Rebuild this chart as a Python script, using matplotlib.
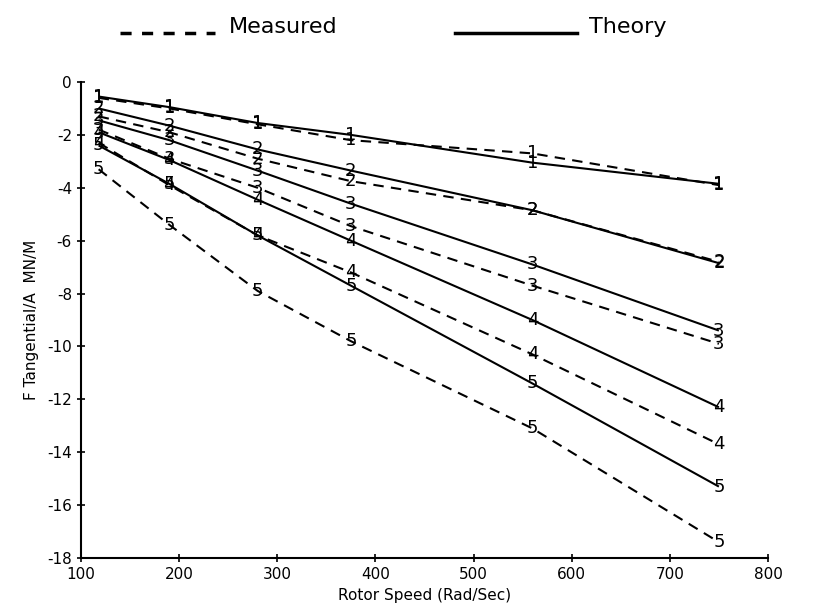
import matplotlib.pyplot as plt
from matplotlib.lines import Line2D

speed = [118, 190, 280, 375, 560, 750]
curve_ids = ['1', '2', '3', '4', '5']

theory = {
    '1': [-0.55, -0.95, -1.55, -2.0, -3.05, -3.85],
    '2': [-1.0, -1.65, -2.55, -3.35, -4.85, -6.85],
    '3': [-1.45, -2.2, -3.35, -4.6, -6.9, -9.4],
    '4': [-1.9, -2.95, -4.45, -6.0, -9.0, -12.3],
    '5': [-2.4, -3.85, -5.8, -7.7, -11.4, -15.3],
}
measured = {
    '1': [-0.6, -1.0, -1.6, -2.2, -2.7, -3.9],
    '2': [-1.3, -1.9, -2.9, -3.75, -4.85, -6.8],
    '3': [-1.8, -2.9, -4.0, -5.45, -7.7, -9.9],
    '4': [-2.3, -3.9, -5.8, -7.2, -10.3, -13.7],
    '5': [-3.3, -5.4, -7.9, -9.8, -13.1, -17.4],
}

plt.rcParams['font.family'] = 'DejaVu Sans'
plt.rcParams['axes.unicode_minus'] = False
fig = plt.figure(figsize=(8.13, 6.06), dpi=100)
ax = fig.add_axes([0.0996, 0.0792, 0.845, 0.7855])

for c in curve_ids:
    ax.plot(speed, theory[c], color='black', lw=1.5, solid_capstyle='butt')
    ax.plot(speed, measured[c], color='black', lw=1.5, dashes=(5, 3.5))
    for x, y in zip(speed, theory[c]):
        ax.text(x, y, c, fontsize=13, ha='center', va='center', clip_on=False)
    for x, y in zip(speed, measured[c]):
        ax.text(x, y, c, fontsize=13, ha='center', va='center', clip_on=False)

ax.set_xlim(100, 800)
ax.set_ylim(-18, 0)
ax.set_xticks(range(100, 801, 100))
ax.set_yticks(range(-18, 1, 2))
ax.spines['top'].set_visible(False)
ax.spines['right'].set_visible(False)
ax.spines['left'].set_linewidth(1.5)
ax.spines['bottom'].set_linewidth(1.5)
ax.tick_params(direction='inout', length=6, width=1.2, labelsize=11)
ax.set_xlabel('Rotor Speed (Rad/Sec)', fontsize=11, labelpad=4)
ax.set_ylabel('F Tangential/A  MN/M', fontsize=11, labelpad=6)

# legend drawn above the axes
fig.add_artist(Line2D([0.148, 0.265], [0.945, 0.945], color='black', lw=2.5,
                      dashes=(3.2, 3), transform=fig.transFigure))
fig.text(0.282, 0.945, 'Measured', fontsize=16, va='baseline')
fig.add_artist(Line2D([0.56, 0.71], [0.945, 0.945], color='black', lw=2.5,
                      transform=fig.transFigure))
fig.text(0.725, 0.945, 'Theory', fontsize=16, va='baseline')

fig.savefig('out.png', dpi=100)
